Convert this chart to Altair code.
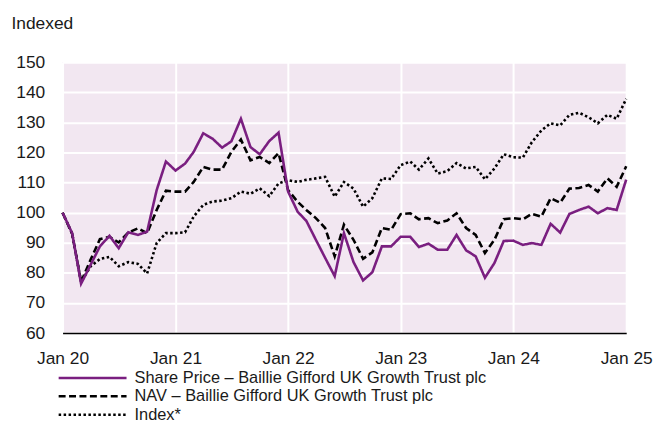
import altair as alt
import pandas as pd

# ---- data (monthly, Jan 2020 .. Jan 2025) ----
years = [2020, 2021, 2022, 2023, 2024, 2025]
y_ticks = [60, 70, 80, 90, 100, 110, 120, 130, 140, 150]

share_price = [
    100, 93.2, 76.4, 82.7, 88.8, 92.3, 88.2, 93.5, 92.6, 93.7, 107.5, 117,
    114, 116.3, 120.2, 126.4, 124.6, 121.6, 123.7, 131.2, 121.8, 119.4, 123.8, 126.6,
    107, 100.3, 97.3, 91, 85, 78.9, 93.2, 83.6, 77.5, 80.2, 88.8, 88.8,
    92, 92, 88.6, 89.7, 87.7, 87.7, 92.6, 87.5, 85.5, 78.4, 83.3, 90.6,
    90.7, 89.3, 89.9, 89.3, 96.3, 93.4, 99.6, 100.9, 102, 99.8, 101.5, 100.9,
    111,
]
nav = [
    100, 93, 77, 84.4, 91.2, 92, 90.1, 93.4, 94.8, 93.2, 100.9, 107.3,
    107, 107, 110.2, 115.2, 114.3, 114.3, 120.2, 124.3, 117.4, 118.5, 116.5, 119.8,
    107.5, 103.6, 100.9, 98.2, 94.9, 85.5, 96, 91, 84.7, 86.8, 94.9, 94.3,
    99.5, 99.8, 97.8, 98.2, 96.5, 97.4, 99.8, 94.9, 92.6, 86.6, 91, 97.8,
    98.2, 97.8, 99.6, 98.7, 104.8, 103.3, 108, 108.2, 109.2, 107, 111.4, 108.6,
    115.4,
]
index = [
    100, 93, 77, 82.2, 84.6, 85.3, 82.2, 83.6, 83, 79.8, 89.9, 93.2,
    93.2, 93.5, 98.7, 102.6, 103.7, 104, 104.8, 107, 106.3, 108.1, 105.5, 109.7,
    110.8, 110.2, 110.9, 111.4, 111.9, 105.3, 110.2, 108, 102, 104.8, 111.4, 111.2,
    115.8, 117, 114.3, 118, 113, 113.8, 116.5, 114.7, 115.2, 111.1, 114.7, 119.4,
    118.4, 118.3, 123.4, 127.3, 129.7, 129, 132.5, 133.2, 131.7, 129.7, 132.5, 131.2,
    137.8,
]

series_names = [
    "Share Price \u2013 Baillie Gifford UK Growth Trust plc",
    "NAV \u2013 Baillie Gifford UK Growth Trust plc",
    "Index*",
]

months = [d.strftime("%Y-%m-%d") for d in pd.date_range("2020-01-01", "2025-01-01", freq="MS")]

rows = []
for name, vals in zip(series_names[::-1], [index, nav, share_price]):
    for d, v in zip(months, vals):
        rows.append({"date": d, "value": v, "series": name})
df = pd.DataFrame(rows)

def dt(y):
    return alt.DateTime(year=y, month=1, date=1, utc=True)

FONT = "Liberation Sans"
FS = 17.5
TXT = "#1a1a1a"
PURPLE = "#7a1f80"

leg = alt.Legend(
    title=None,
    orient="none",
    legendX=22,
    legendY=310,
    symbolType="M-6,0H6",
    symbolSize=130,
    symbolStrokeWidth=2.5,
    labelFontSize=16.5,
    labelFont=FONT,
    labelColor=TXT,
    labelOffset=34,
    labelLimit=700,
    rowPadding=1.5,
)

chart = alt.Chart(df).mark_line(strokeWidth=2.6).encode(
    x=alt.X(
        "date:T",
        title=None,
        scale=alt.Scale(type="utc", domain=[dt(2020), dt(2025)]),
        axis=alt.Axis(
            values=[dt(y) for y in years],
            format="%b %y",
            ticks=False,
            domain=True,
            domainColor="#000000",
            domainWidth=1.5,
            grid=True,
            gridColor="#ffffff",
            gridWidth=2,
            labelFlush=False,
            labelPadding=17,
            labelFontSize=FS,
            labelColor=TXT,
            labelFont=FONT,
        ),
    ),
    y=alt.Y(
        "value:Q",
        scale=alt.Scale(domain=[60, 150], nice=False, zero=False),
        axis=alt.Axis(
            values=y_ticks,
            title="Indexed",
            titleAngle=0,
            titleAlign="left",
            titleBaseline="middle",
            titleX=-52,
            titleY=-39,
            titleFontWeight="normal",
            titleFontSize=FS,
            titleColor=TXT,
            titleFont=FONT,
            ticks=False,
            domain=False,
            grid=True,
            gridColor="#ffffff",
            gridWidth=2,
            labelPadding=18,
            labelFontSize=FS,
            labelColor=TXT,
            labelFont=FONT,
        ),
    ),
    color=alt.Color(
        "series:N",
        scale=alt.Scale(domain=series_names, range=[PURPLE, "#000000", "#000000"]),
        legend=leg,
    ),
    strokeDash=alt.StrokeDash(
        "series:N",
        scale=alt.Scale(domain=series_names, range=[[1, 0], [7, 3.5], [2.5, 2.5]]),
        legend=leg,
    ),
).properties(
    width=568,
    height=273,
    autosize=alt.AutoSizeParams(type="none"),
    padding={"left": 55, "top": 53, "right": 28, "bottom": 86},
).configure(
    font=FONT,
).configure_view(
    fill="#f2e7f1",
    strokeWidth=0,
)

chart.save("out.html", embed_options={"renderer": "svg", "actions": False})
